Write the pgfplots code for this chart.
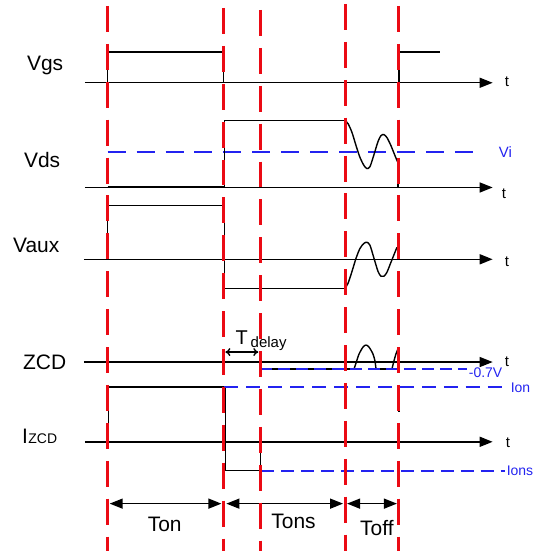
\documentclass[border=0pt]{standalone}
\usepackage{fontspec}
\setmainfont{Liberation Sans}
\usepackage{pgfplots}
\pgfplotsset{compat=1.18}
\usetikzlibrary{arrows.meta}
\definecolor{myred}{RGB}{235,10,20}
\definecolor{myblue}{RGB}{35,35,240}
\newcommand{\fs}[1]{\fontsize{#1bp}{#1bp}\selectfont}
\begin{document}
\begin{tikzpicture}
\begin{axis}[
  scale only axis, width=542bp, height=552bp,
  xmin=0, xmax=542, ymin=0, ymax=552, y dir=reverse,
  hide axis, clip=false,
  every axis plot/.append style={line join=miter},
]
\path (axis cs:0,0) rectangle (axis cs:542,552);
% time axes
\pgfplotsset{tax/.style={black, line width=1.4bp, -{Triangle[length=13bp,width=10bp]}}}
\addplot[tax] coordinates {(85,83) (494,83)};
\addplot[tax] coordinates {(85,188) (494,188)};
\addplot[tax] coordinates {(84,260) (494,260)};
\addplot[tax] coordinates {(84,363) (494,363)};
\addplot[tax] coordinates {(85,443) (494,443)};
% blue reference level Vi
\addplot[myblue, line width=2bp, dash pattern=on 18bp off 11bp] coordinates {(108,152) (480,152)};
% signals
\pgfplotsset{sig/.style={black, line width=1.4bp}}
% Vgs
\addplot[sig] coordinates {(108,83) (108,52) (224,52) (224,83)};
\addplot[sig] coordinates {(400,83) (400,52) (441,52)};
% Vds
\addplot[sig, line width=2bp] coordinates {(108,188) (225,188)};
\addplot[sig] coordinates {(225,188) (225,121) (346,121)};
\addplot[sig, smooth] coordinates {(346,121) (349,124) (353,133) (357,146) (361,158) (365,166) (368,169) (371,167) (375,155) (379,142) (382,136) (385,135) (388,138) (392,146) (396,156) (399,163)};
\addplot[sig] coordinates {(399,163) (399,188)};
% Vaux
\addplot[sig] coordinates {(108,260) (108,206) (225,206) (225,289) (346,289)};
\addplot[sig, smooth] coordinates {(346,289) (349,284) (353,272) (357,259) (361,249) (365,244) (368,243) (371,246) (375,259) (379,272) (382,277) (385,277) (388,273) (392,263) (396,253) (398,248)};
% ZCD
\addplot[sig] coordinates {(261,363) (261,370) (355,370)};
\addplot[sig, smooth] coordinates {(355,370) (357,364) (360,355) (364,348) (367,346) (370,348) (374,355) (376,362) (377,370)};
\addplot[sig] coordinates {(377,370) (393,370)};
\addplot[sig, smooth] coordinates {(393,370) (395,362) (397,355) (399,350)};
% IZCD
\addplot[sig] coordinates {(109,443) (109,388) (224,388) (226,388) (226,472) (261,472) (261,443)};
\addplot[sig] coordinates {(400,407) (400,413)};
% blue reference levels (on top of signals)
\addplot[myblue, line width=2bp, dash pattern=on 12bp off 6bp] coordinates {(261,369.5) (468,369.5)};
\addplot[myblue, line width=2bp, dash pattern=on 14bp off 8bp] coordinates {(225,388) (504,388)};
\addplot[myblue, line width=2bp, dash pattern=on 13bp off 7bp] coordinates {(262,472) (506,472)};
% Tdelay arrow
\addplot[black, line width=1.4bp, {To[length=5bp,width=8bp]}-{To[length=5bp,width=8bp]}] coordinates {(226,353) (259,353)};
% bottom interval arrows
\pgfplotsset{iar/.style={black, line width=1.4bp, {Triangle[length=13bp,width=10bp]}-{Triangle[length=13bp,width=10bp]}}}
\addplot[iar] coordinates {(110,505) (222,505)};
\addplot[iar] coordinates {(227,505) (344,505)};
\addplot[iar] coordinates {(348,505) (398,505)};
% red dashed time markers
\pgfplotsset{rdl/.style={myred, line width=3bp, dash pattern=on 26bp off 12bp}}
\addplot[rdl] coordinates {(108,6) (108,552)};
\addplot[rdl] coordinates {(224,8) (224,552)};
\addplot[rdl] coordinates {(261,10) (261,552)};
\addplot[rdl] coordinates {(346,4) (346,552)};
\addplot[rdl] coordinates {(400,6) (400,552)};
% labels
\node[anchor=base west, inner sep=0pt, font=\fs{21}] at (axis cs:27,71) {Vgs};
\node[anchor=base west, inner sep=0pt, font=\fs{21}] at (axis cs:24,168) {Vds};
\node[anchor=base west, inner sep=0pt, font=\fs{21}] at (axis cs:13,253) {Vaux};
\node[anchor=base west, inner sep=0pt, font=\fs{21}] at (axis cs:23,371) {ZCD};
\node[anchor=base west, inner sep=0pt, font=\fs{21}] at (axis cs:22,445) {I{\fs{14}\kern0.5bp ZCD}};
\node[anchor=base west, inner sep=0pt, font=\fs{20}] at (axis cs:236,345) {T\kern3bp\raisebox{-3bp}{\fs{15}delay}};
\node[anchor=base west, inner sep=0pt, font=\fs{15}] at (axis cs:506,87) {t};
\node[anchor=base west, inner sep=0pt, font=\fs{15}] at (axis cs:503,199) {t};
\node[anchor=base west, inner sep=0pt, font=\fs{15}] at (axis cs:506,267) {t};
\node[anchor=base west, inner sep=0pt, font=\fs{15}] at (axis cs:506,367) {t};
\node[anchor=base west, inner sep=0pt, font=\fs{15}] at (axis cs:507,449) {t};
\node[anchor=base west, inner sep=0pt, font=\fs{15}, text=myblue] at (axis cs:500,158) {Vi};
\node[anchor=base west, inner sep=0pt, font=\fs{14}, text=myblue] at (axis cs:470,379) {-0.7V};
\node[anchor=base west, inner sep=0pt, font=\fs{14}, text=myblue] at (axis cs:512,394) {Ion};
\node[anchor=base west, inner sep=0pt, font=\fs{14}, text=myblue] at (axis cs:508,477) {Ions};
\node[anchor=base west, inner sep=0pt, font=\fs{21}] at (axis cs:148,533) {Ton};
\node[anchor=base west, inner sep=0pt, font=\fs{21}] at (axis cs:272,530) {Tons};
\node[anchor=base west, inner sep=0pt, font=\fs{21}] at (axis cs:361,537) {Toff};
\end{axis}
\end{tikzpicture}
\end{document}
